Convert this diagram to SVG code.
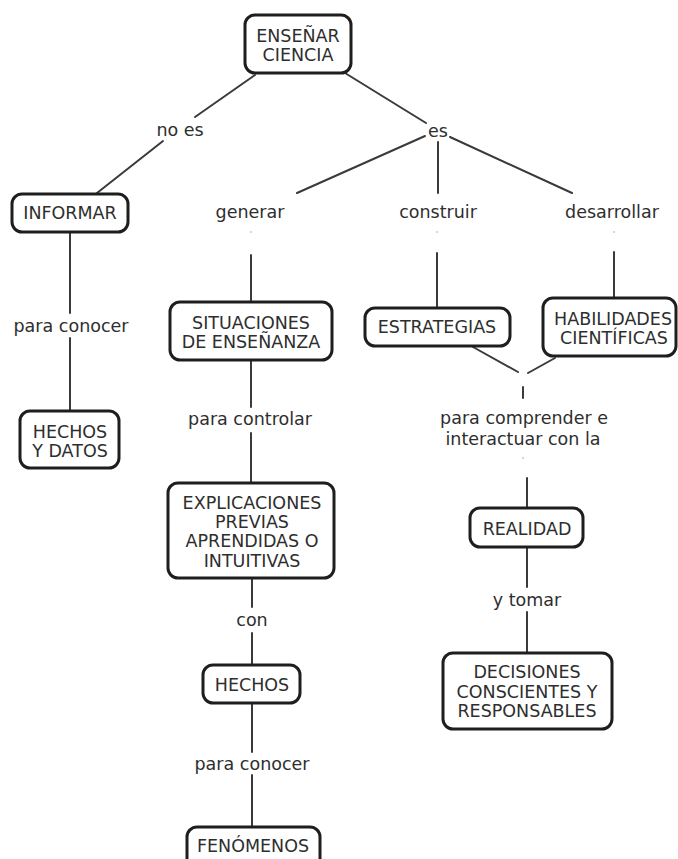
<svg xmlns="http://www.w3.org/2000/svg" width="678" height="859" viewBox="0 0 678 859">
<style>
.bg{fill:#ffffff}
.box{fill:#ffffff;stroke:#1e1e1e;stroke-width:3}
.ln{stroke:#3a3a3a;stroke-width:2;fill:none;stroke-linecap:round}
text{font-family:"DejaVu Sans","Verdana",sans-serif;font-size:17.5px;fill:#2e2e2e;text-anchor:middle}
.dot{fill:#c8c8c8}
</style>
<rect class="bg" x="0" y="0" width="678" height="859"/>
<g id="connectors">
<line class="ln" x1="255" y1="75" x2="195" y2="117"/>
<line class="ln" x1="163" y1="141" x2="97" y2="193"/>
<line class="ln" x1="345" y1="73" x2="426" y2="123"/>
<line class="ln" x1="425" y1="136" x2="297" y2="193"/>
<line class="ln" x1="438" y1="142" x2="438" y2="193"/>
<line class="ln" x1="450" y1="137" x2="572" y2="193"/>
<line class="ln" x1="70" y1="232" x2="70" y2="313"/>
<line class="ln" x1="70" y1="338" x2="70" y2="411"/>
<line class="ln" x1="251" y1="255" x2="251" y2="302"/>
<line class="ln" x1="251" y1="360" x2="251" y2="407"/>
<line class="ln" x1="251" y1="433" x2="251" y2="483"/>
<line class="ln" x1="252" y1="578" x2="252" y2="607"/>
<line class="ln" x1="252" y1="633" x2="252" y2="665"/>
<line class="ln" x1="252" y1="703" x2="252" y2="752"/>
<line class="ln" x1="252" y1="775" x2="252" y2="827"/>
<line class="ln" x1="437" y1="253" x2="437" y2="308"/>
<line class="ln" x1="614" y1="252" x2="614" y2="298"/>
<line class="ln" x1="473" y1="347" x2="518" y2="372"/>
<line class="ln" x1="555" y1="358" x2="528" y2="373"/>
<line class="ln" x1="523" y1="387" x2="523" y2="398"/>
<line class="ln" x1="527" y1="478" x2="527" y2="508"/>
<line class="ln" x1="527" y1="547" x2="527" y2="587"/>
<line class="ln" x1="527" y1="612" x2="527" y2="653"/>
<circle class="dot" cx="251" cy="232" r="1"/>
<circle class="dot" cx="437" cy="232" r="1"/>
<circle class="dot" cx="614" cy="232" r="1"/>
<circle class="dot" cx="523" cy="458" r="1"/>
</g>
<g id="labels">
<text x="180" y="136">no es</text>
<text x="438" y="137">es</text>
<text x="250" y="218">generar</text>
<text x="438" y="218">construir</text>
<text x="612" y="218">desarrollar</text>
<text x="71" y="332">para conocer</text>
<text x="250" y="425">para controlar</text>
<text x="524" y="424">para comprender e</text>
<text x="523" y="445">interactuar con la</text>
<text x="527" y="606">y tomar</text>
<text x="252" y="626">con</text>
<text x="252" y="770">para conocer</text>
</g>
<g id="n-ensenar">
<rect class="box" x="245" y="15" width="106" height="58" rx="10"/>
<text x="298" y="42">ENSEÑAR</text>
<text x="298" y="61">CIENCIA</text>
</g>
<g id="n-informar">
<rect class="box" x="12" y="194" width="116" height="38" rx="10"/>
<text x="70" y="219">INFORMAR</text>
</g>
<g id="n-hechos-datos">
<rect class="box" x="20" y="411" width="99" height="57" rx="10"/>
<text x="70" y="438">HECHOS</text>
<text x="70" y="457">Y DATOS</text>
</g>
<g id="n-situaciones">
<rect class="box" x="170" y="302" width="162" height="58" rx="10"/>
<text x="251" y="329">SITUACIONES</text>
<text x="251" y="348">DE ENSEÑANZA</text>
</g>
<g id="n-explicaciones">
<rect class="box" x="168" y="483" width="166" height="95" rx="10"/>
<text x="252" y="509">EXPLICACIONES</text>
<text x="252" y="528">PREVIAS</text>
<text x="252" y="547">APRENDIDAS O</text>
<text x="252" y="567">INTUITIVAS</text>
</g>
<g id="n-hechos">
<rect class="box" x="203" y="665" width="97" height="38" rx="10"/>
<text x="252" y="691">HECHOS</text>
</g>
<g id="n-fenomenos">
<rect class="box" x="187" y="827" width="133" height="45" rx="10"/>
<text x="253" y="852">FENÓMENOS</text>
</g>
<g id="n-estrategias">
<rect class="box" x="365" y="308" width="145" height="38" rx="10"/>
<text x="437" y="333">ESTRATEGIAS</text>
</g>
<g id="n-habilidades">
<rect class="box" x="543" y="298" width="133" height="58" rx="10"/>
<text x="613" y="325">HABILIDADES</text>
<text x="614" y="344">CIENTÍFICAS</text>
</g>
<g id="n-realidad">
<rect class="box" x="470" y="508" width="113" height="39" rx="10"/>
<text x="527" y="535">REALIDAD</text>
</g>
<g id="n-decisiones">
<rect class="box" x="443" y="653" width="169" height="76" rx="10"/>
<text x="527" y="678">DECISIONES</text>
<text x="527" y="698">CONSCIENTES Y</text>
<text x="527" y="717">RESPONSABLES</text>
</g>
</svg>
